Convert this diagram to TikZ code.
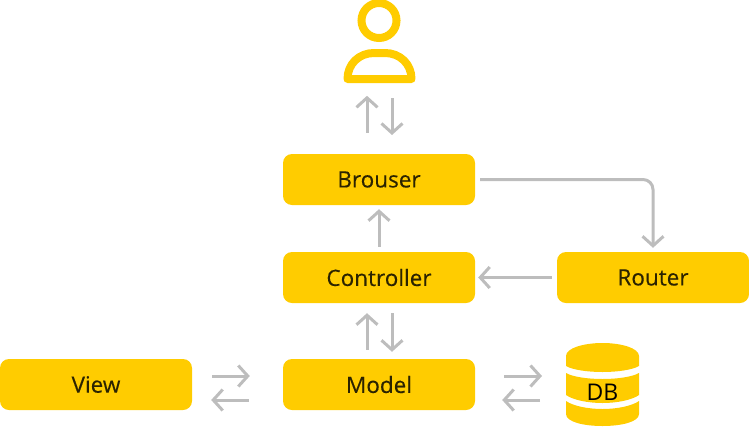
\documentclass[tikz,border=0pt]{standalone}
\usepackage{fontspec}
\setmainfont{Open Sans}
\newfontface\lab{Open Sans}[FakeBold=0.25]
\usetikzlibrary{arrows.meta}
\definecolor{yel}{HTML}{FFCC00}
\definecolor{gry}{HTML}{BDBDBD}
\definecolor{ink}{HTML}{2B2300}
\tikzset{
  box/.style={fill=yel,rounded corners=9pt,minimum width=192pt,minimum height=51pt,inner sep=0pt,text=ink,font=\lab\fontsize{22.5}{26}\selectfont},
  conn/.style={draw=gry,line width=3pt,-{Straight Barb[length=9.5pt,width=21pt,line width=3pt]}},
}
\begin{document}
\begin{tikzpicture}[x=1pt,y=-1pt]
\useasboundingbox (0,0) rectangle (749,426);
\node[box] (brouser) at (379,179.5) {Brouser};
\node[box] (controller) at (379,277.5) {Controller};
\node[box] (router) at (653,277.5) {Router};
\node[box] (view) at (96,384.5) {View};
\node[box] (model) at (379,384.5) {Model};
% person
\node[draw=yel,line width=8pt,circle,minimum size=35pt,inner sep=0pt] (head) at (379,20.5) {};
\draw[draw=yel,line width=8pt,line join=round] (347.5,79) .. controls (347.5,64) and (359,53) .. (374,53) -- (385,53) .. controls (400,53) and (411.5,64) .. (411.5,79) -- cycle;
% database
\fill[yel] (566,356) .. controls (566,348) and (584,343) .. (602.5,343) .. controls (621,343) and (639,348) .. (639,356) -- (639,366) .. controls (632,370) and (617,372) .. (602.5,372) .. controls (588,372) and (573,370) .. (566,366) -- cycle;
\fill[yel] (566,373) .. controls (573,377) and (588,379) .. (602.5,379) .. controls (617,379) and (632,377) .. (639,373) -- (639,395) .. controls (632,400) and (617,403) .. (602.5,403) .. controls (588,403) and (573,400) .. (566,395) -- cycle;
\fill[yel] (566,401) .. controls (573,406) and (588,409) .. (602.5,409) .. controls (617,409) and (632,406) .. (639,401) -- (639,414) .. controls (639,422) and (621,426) .. (602.5,426) .. controls (584,426) and (566,422) .. (566,414) -- cycle;
\node[text=black,font=\fontsize{23}{26}\selectfont,inner sep=0pt] (db) at (602.5,392) {DB};
% connectors
\draw[conn,shorten <=21pt,shorten >=0pt] ([xshift=-12pt]brouser.north) -- ([xshift=-12pt,yshift=58pt]brouser.north);
\draw[conn,shorten >=19pt] (392,98) -- (392,154);
\draw[conn,shorten <=5pt,shorten >=4pt] (controller.north) -- (brouser.south);
\draw[conn,rounded corners=10pt,shorten <=5pt,shorten >=4pt] (brouser.east) -| (router.north);
\draw[conn,shorten <=5pt,shorten >=3pt] (router.west) -- (controller.east);
\draw[conn,shorten <=9pt,shorten >=10pt] ([xshift=-12pt]model.north) -- ([xshift=-12pt]controller.south);
\draw[conn,shorten <=10pt,shorten >=7pt] ([xshift=13pt]controller.south) -- ([xshift=13pt]model.north);
\draw[conn,shorten <=20pt,shorten >=33pt] ([yshift=8.5pt]view.east) -- ([yshift=8.5pt]model.west);
\draw[conn,shorten <=34pt,shorten >=19pt] ([yshift=-15.5pt]model.west) -- ([yshift=-15.5pt]view.east);
\draw[conn,shorten <=29pt,shorten >=24pt] ([yshift=8.5pt]model.east) -- (566,376);
\draw[conn,shorten <=26pt,shorten >=27pt] (566,400) -- ([yshift=-15.5pt]model.east);
\end{tikzpicture}
\end{document}
